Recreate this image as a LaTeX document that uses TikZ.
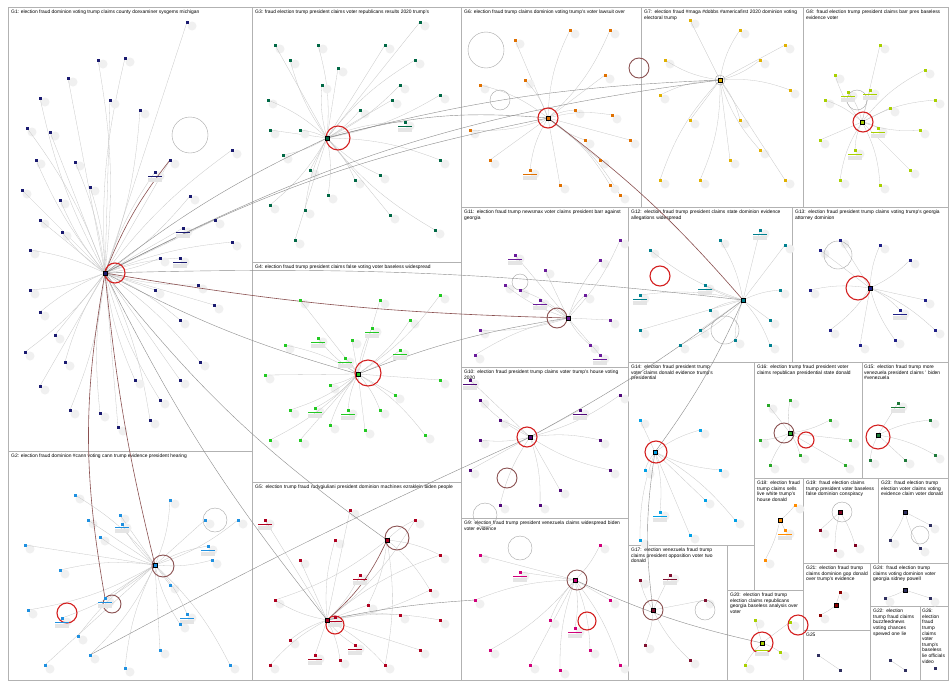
\documentclass[tikz,border=0pt]{standalone}
\usepackage{fontspec}
\setmainfont{Liberation Sans}
\hyphenpenalty=10000
\exhyphenpenalty=10000
\definecolor{c1}{HTML}{1A1A70}
\definecolor{c2}{HTML}{1E90E0}
\definecolor{c3}{HTML}{006845}
\definecolor{c4}{HTML}{22C922}
\definecolor{c5}{HTML}{B00020}
\definecolor{c6}{HTML}{E07000}
\definecolor{c7}{HTML}{E0B000}
\definecolor{c8}{HTML}{A8D000}
\definecolor{c9}{HTML}{D0007A}
\definecolor{c10}{HTML}{50087A}
\definecolor{c11}{HTML}{6A1B9A}
\definecolor{c12}{HTML}{00808F}
\definecolor{c13}{HTML}{202088}
\definecolor{c14}{HTML}{00A0E6}
\definecolor{c15}{HTML}{1E7A3A}
\definecolor{c16}{HTML}{28A828}
\definecolor{c17}{HTML}{801030}
\definecolor{c18}{HTML}{FF8C00}
\definecolor{c19}{HTML}{800020}
\definecolor{c20}{HTML}{A8D000}
\definecolor{c21}{HTML}{8B0000}
\definecolor{c22}{HTML}{303060}
\definecolor{redloop}{HTML}{D42020}
\definecolor{brownedge}{HTML}{8A5050}
\tikzset{
  frame/.style={draw=black!30, line width=0.6pt},
  lab/.style={anchor=north west, font=\fontsize{4.9}{5.6}\selectfont, inner sep=1pt, align=left},
  e/.style={draw=black!22, line width=0.3pt},
  ex/.style={draw=black!45, line width=0.4pt},
  ed/.style={draw=brownedge, line width=0.6pt},
  v/.style={rectangle, fill=#1, minimum size=3pt, inner sep=0pt},
  hub/.style={rectangle, fill=#1, draw=black, line width=0.3pt, minimum size=4pt, inner sep=0pt},
  rloop/.style={draw=redloop, line width=1.1pt},
  bloop/.style={draw=brownedge, line width=0.9pt},
  gloop/.style={draw=black!35, line width=0.4pt},
}
% pass 1: coordinates
\newcommand{\grpC}[4]{%
  \foreach \x/\y [count=\i] in #4 { \coordinate (#1n\i) at (\x,\y); }}
% pass 2: shadows and edges
\newcommand{\grpE}[4]{%
  \foreach \x/\y [count=\i] in #4 {
    \pgfmathtruncatemacro\bb{mod(\i,3)*#3-#3}
    \fill[black!6] (\x+5,\y+4) circle (4.5);
    \draw[e] (#1h) to[bend left=\bb] (#1n\i);
  }}
% pass 3: nodes
\newcommand{\grpN}[4]{%
  \foreach \x/\y [count=\i] in #4 { \node[v=#2] (#1v\i) at (#1n\i) {}; }}
\newcommand{\uls}[2]{%
  \foreach \x/\y in {#2} {
    \fill[black!10] (\x-7,\y+2) rectangle (\x+7,\y+6);
    \draw[#1, line width=1pt] (\x-7,\y) -- (\x+7,\y);
  }}
\def\Lone{187/22,125/58,98/60,68/78,40/98,27/128,50/132,36/160,75/162,22/190,60/200,90/187,40/220,62/232,30/250,170/160,155/172,190/196,183/228,180/258,160/258,155/290,180/320,198/285,214/305,30/290,40/312,55/335,25/352,65/362,40/386,70/410,100/413,118/427,150/420,160/400,180/380,200/362,135/380,215/220,232/242,140/110,110/100,232/150}
\def\Ltwo{120/515,122/524,75/495,88/520,100/537,170/500,205/520,208/546,212/560,170/585,187/614,180/624,105/598,62/618,78/636,45/665,90/655,125/668,160/650,230/665,238/520,25/545,28/610,60/570}
\def\Lthree{275/45,290/60,318/45,338/68,322/85,360/110,392/100,405/122,400/85,385/45,415/60,268/100,270/130,283/155,300/130,310/170,328/195,305/210,295/240,355/180,380/175,390/215,440/160,435/230,420/22,270/205,440/95}
\def\Lfour{300/300,318/338,285/345,265/375,330/385,345/358,352/340,372/328,400/350,395/395,380/410,348/410,365/430,315/408,330/425,300/440,270/440,410/320,440/380,425/435,440/295,380/300,290/410}
\def\Lfive{265/520,335/540,360/575,300/560,275/600,290/640,315/655,340/660,355/645,368/605,400/615,430/590,420/650,440/555,415/520,350/510,385/665,270/665,335/617,440/620}
\def\Lsix{515/40,570/30,610/30,605/75,575/110,585/140,600/160,612/115,530/170,490/160,470/130,480/85,560/185,620/195,525/80,630/140,610/185}
\def\Lseven{690/20,740/30,760/60,785/45,665/60,660/95,690/120,740/120,760/150,785/180,700/180,660/180,730/160,790/90}
\def\Leight{880/45,835/75,848/92,870/90,878/128,855/150,890/108,925/70,920/130,910/170,880/185,840/180,820/140,935/100,825/100}
\def\Leleven{515/255,505/285,520/290,540/300,585/295,590/345,600/355,480/330,475/355,545/270,600/260,620/240,610/320}
\def\Ltwelve{760/230,705/285,710/310,700/330,680/345,735/340,770/320,780/290,640/295,640/330,650/250,720/240,785/245,770/345}
\def\Lthirteen{840/240,880/245,910/260,925/300,935/330,895/340,860/345,830/330,810/290,820/250,900/310}
\def\Lten{470/380,480/400,500/420,580/410,600/440,610/470,560/490,540/505,500/505,470/470,480/440,620/395}
\def\Lnine{520/572,575/628,600/545,610/600,590/650,560/670,530/665,490/650,475/600,480/555,620/665,550/620}
\def\Lfourteen{640/420,700/430,720/470,705/500,660/512,640/540,690/535,735/520,645/470}
\def\Lsixteen{768/405,790/400,830/420,850/440,800/455,770/465,845/465,760/440}
\def\Lfifteen{898/403,930/420,870/460,905/460,935/455}
\def\Leighteen{785/530,765/560,795/505}
\def\Lnineteen{820/530,855/545,835/550}
\def\Ltwentythree{930/525,890/540,920/548}
\def\Lseventeen{670/575,645/645,690/660,705/600,640/580}
\def\Ltwenty{755/620,780/652,745/665,790/622}
\def\Ltwentyone{840/592,820/615}
\def\Ltwentyfour{930/598,885/598}
\newcommand{\allgroups}[1]{%
  #1{g1}{c1}{8}{\Lone}#1{g2}{c2}{10}{\Ltwo}#1{g3}{c3}{10}{\Lthree}#1{g4}{c4}{10}{\Lfour}%
  #1{g5}{c5}{10}{\Lfive}#1{g6}{c6}{12}{\Lsix}#1{g7}{c7}{12}{\Lseven}#1{g8}{c8}{12}{\Leight}%
  #1{g11}{c11}{10}{\Leleven}#1{g12}{c12}{10}{\Ltwelve}#1{g13}{c13}{10}{\Lthirteen}%
  #1{g10}{c10}{10}{\Lten}#1{g9}{c9}{10}{\Lnine}#1{g14}{c14}{10}{\Lfourteen}%
  #1{g16}{c16}{10}{\Lsixteen}#1{g15}{c15}{10}{\Lfifteen}#1{g18}{c18}{8}{\Leighteen}%
  #1{g19}{c19}{8}{\Lnineteen}#1{g23}{c22}{8}{\Ltwentythree}#1{g17}{c17}{10}{\Lseventeen}%
  #1{g20}{c20}{8}{\Ltwenty}#1{g21}{c21}{8}{\Ltwentyone}#1{g24}{c22}{8}{\Ltwentyfour}}
\begin{document}
\begin{tikzpicture}[x=1pt,y=-1pt]
\useasboundingbox (0,0) rectangle (950,688);
\fill[white] (0,0) rectangle (950,688);
% frames
\foreach \xa/\ya/\xb/\yb in {8/7/252/451, 8/451/252/680, 252/7/461/262, 252/262/461/482, 252/482/461/680,
  461/7/641/207, 641/7/803/207, 803/7/948/207, 461/207/628/367, 628/207/792/362, 792/207/948/362,
  461/367/628/518, 461/518/628/680, 628/362/754/545, 754/362/862/478, 862/362/948/478,
  754/478/803/590, 803/478/878/563, 878/478/948/563, 628/545/727/680, 727/590/803/680,
  803/563/870/630, 870/563/948/606, 803/630/870/680, 870/606/920/680, 920/606/948/680}
  \draw[frame] (\xa,\ya) rectangle (\xb,\yb);
% labels
\node[lab] (t1) at (10,9) {G1: election fraud dominion voting trump claims county dcexaminer sysgems michigan};
\node[lab] (t2) at (10,453) {G2: election fraud dominion \#cann voting cann trump evidence president hearing};
\node[lab] (t3) at (254,9) {G3: fraud election trump president claims voter republicans results 2020 trump's};
\node[lab] (t4) at (254,264) {G4: election fraud trump president claims false voting voter baseless widespread};
\node[lab, text width=200pt] (t5) at (254,484) {G5: election trump fraud rudygiuliani president dominion machines ezraklein biden people};
\node[lab] (t6) at (463,9) {G6: election fraud trump claims dominion voting trump's voter lawsuit over};
\node[lab, text width=155pt] (t7) at (643,9) {G7: election fraud \#maga \#dobbs \#americafirst 2020 dominion voting electoral trump};
\node[lab, text width=138pt] (t8) at (805,9) {G8: fraud election trump president claims barr pres baseless evidence voter};
\node[lab, text width=160pt] (t11) at (463,209) {G11: election fraud trump newsmax voter claims president barr against georgia};
\node[lab, text width=160pt] (t12) at (630,209) {G12: election fraud trump president claims state dominion evidence allegations widespread};
\node[lab, text width=150pt] (t13) at (794,209) {G13: election fraud president trump claims voting trump's georgia attorney dominion};
\node[lab, text width=160pt] (t10) at (463,369) {G10: election fraud president trump claims voter trump's house voting 2020};
\node[lab, text width=160pt] (t9) at (463,520) {G9: election fraud trump president venezuela claims widespread biden voter evidence};
\node[lab, text width=90pt] (t14) at (630,364) {G14: election fraud president trump voter claims donald evidence trump's presidential};
\node[lab, text width=102pt] (t16) at (756,364) {G16: election trump fraud president voter claims republican presidential state donald};
\node[lab, text width=85pt] (t15) at (863,364) {G15: election fraud trump more venezuela president claims ' biden \#venezuela};
\node[lab, text width=45pt] (t18) at (756,480) {G18: election fraud trump claims sells live white trump's house donald};
\node[lab, text width=71pt] (t19) at (805,480) {G19: fraud election claims trump president voter baseless false dominion conspiracy};
\node[lab, text width=66pt] (t23) at (880,480) {G23: fraud election trump election voter claims voting evidence claim voter donald};
\node[lab, text width=94pt] (t17) at (630,547) {G17: election venezuela fraud trump claims president opposition voter two donald};
\node[lab, text width=72pt] (t20) at (729,592) {G20: election fraud trump election claims republicans georgia baseless analysis over voter};
\node[lab, text width=63pt] (t21) at (805,565) {G21: election fraud trump claims dominion gop donald over trump's evidence};
\node[lab, text width=64pt] (t24) at (872,565) {G24: fraud election trump claims voting dominion voter georgia sidney powell};
\node[lab] (t25) at (805,632) {G25};
\node[lab, text width=46pt] (t22) at (872,608) {G22: election trump fraud claims buzzfeednews voting chances spewed one lie};
\node[lab, text width=24pt] (t26) at (921,608) {G26: election fraud trump claims voter trump's baseless lie officials video};

% hub coordinates
\coordinate (g1h) at (105,273);
\coordinate (g2h) at (155,565);
\coordinate (g3h) at (327,138);
\coordinate (g4h) at (358,374);
\coordinate (g5h) at (327,620);
\coordinate (g5b) at (387,540);
\coordinate (g6h) at (548,118);
\coordinate (g7h) at (720,80);
\coordinate (g8h) at (862,122);
\coordinate (g9h) at (575,580);
\coordinate (g10h) at (530,437);
\coordinate (g11h) at (568,318);
\coordinate (g12h) at (743,300);
\coordinate (g13h) at (870,288);
\coordinate (g14h) at (655,452);
\coordinate (g15h) at (878,435);
\coordinate (g16h) at (790,433);
\coordinate (g17h) at (653,610);
\coordinate (g18h) at (780,520);
\coordinate (g19h) at (840,512);
\coordinate (g20h) at (762,643);
\coordinate (g21h) at (836,605);
\coordinate (g23h) at (905,512);
\coordinate (g24h) at (905,590);
\coordinate (g25a) at (818,655);
\coordinate (g25b) at (840,670);
\coordinate (g22a) at (890,660);
\coordinate (g22b) at (905,670);
\coordinate (g26a) at (935,668);

% satellite coordinates
\allgroups{\grpC}

% shadows and edges
\allgroups{\grpE}
\foreach \z in {5,10,12,15,17,14} { \draw[e] (g5b) to[bend left=10] (g5n\z); }
\draw[ed] (g5b) to[bend left=12] (g5h);
\draw[e] (g25a) -- (g25b);
\draw[e] (g22a) -- (g22b);

% cross-group edges
\draw[ex] (g1h) to[bend left=6] (g3h);
\draw[ex] (g1h) to[bend left=8] (g6h);
\draw[ex] (g1h) to[bend left=10] (g7h);
\draw[ed] (g1h) to[bend right=4] (g11h);
\draw[ex] (g1h) to[bend right=6] (g4h);
\draw[ex] (g1h) to[bend right=8] (g5b);
\draw[ex] (g1h) to[bend right=6] (g5h);
\draw[ed] (g1h) to[bend right=4] (g2h);
\draw[ed] (g1h) to[bend left=8] (g1n16);
\draw[ed] (g1h) to[bend right=10] (g2n13);
\draw[ex] (g1h) to[bend left=4] (g12h);
\draw[ex] (g2n17) to[bend left=2] (g10h);
\draw[ex] (g3h) to[bend left=10] (g6h);
\draw[ed] (g6h) to[bend left=6] (g12h);
\draw[ex] (g12h) to[bend left=4] (g10h);
\draw[ex] (g9h) to[bend right=6] (g20h);
\draw[ex] (g14h) to[bend right=8] (g17h);
\draw[ex] (g5h) to[bend left=4] (g9n9);
\draw[ex] (g4h) to[bend left=6] (g11h);
\draw[ex] (g12h) to[bend left=6] (g14h);
\draw[ex] (g3h) to[bend left=6] (g7h);

% loops
\draw[rloop] (115,273) circle (10);
\draw[rloop] (67,613) circle (10);
\draw[bloop] (112,604) circle (9);
\draw[bloop] (163,566) circle (11);
\draw[gloop] (215,520) circle (12);
\draw[gloop] (190,135) circle (18);
\draw[rloop] (338,138) circle (12);
\draw[rloop] (368,373) circle (13);
\draw[rloop] (335,625) circle (9);
\draw[bloop] (397,538) circle (12);
\draw[rloop] (548,118) circle (10);
\draw[gloop] (500,100) circle (10);
\draw[bloop] (639,68) circle (10);
\draw[gloop] (486,50) circle (18);
\draw[gloop] (720,80) circle (5);
\draw[rloop] (863,122) circle (10);
\draw[gloop] (857,100) circle (10);
\draw[bloop] (557,318) circle (10);
\draw[gloop] (520,282) circle (8);
\draw[rloop] (660,276) circle (10);
\draw[gloop] (725,330) circle (14);
\draw[rloop] (858,288) circle (12);
\draw[gloop] (838,255) circle (14);
\draw[rloop] (527,437) circle (10);
\draw[bloop] (507,478) circle (10);
\draw[gloop] (485,515) circle (12);
\draw[gloop] (520,548) circle (12);
\draw[bloop] (577,580) circle (10);
\draw[rloop] (587,621) circle (9);
\draw[rloop] (656,452) circle (11);
\draw[bloop] (784,433) circle (10);
\draw[rloop] (806,440) circle (8);
\draw[rloop] (878,437) circle (12);
\draw[gloop] (842,512) circle (10);
\draw[bloop] (653,610) circle (10);
\draw[rloop] (762,643) circle (11);
\draw[rloop] (798,625) circle (10);
\draw[gloop] (920,535) circle (9);
\draw[gloop] (705,610) circle (10);

% underlines
\uls{c1}{155/176,183/232,180/262}
\uls{c2}{122/527,208/550,187/618,105/602,62/622}
\uls{c3}{405/126}
\uls{c4}{318/342,345/362,372/332,400/354,348/414,315/412}
\uls{c5}{265/524,360/579,315/659,355/649,335/621}
\uls{c6}{530/174}
\uls{c8}{848/96,870/94,878/132,855/154}
\uls{c11}{515/259,540/304,600/359}
\uls{c12}{760/234,705/289,640/299}
\uls{c13}{900/314}
\uls{c10}{470/384,580/414}
\uls{c9}{520/576,575/632}
\uls{c14}{660/516}
\uls{c15}{898/407}
\uls{c18}{785/534}
\uls{c17}{670/579}
\uls{c20}{762/650}

% nodes
\allgroups{\grpN}
\foreach \n/\cc in {g1h/c1,g2h/c2,g3h/c3,g4h/c4,g5h/c5,g5b/c5,g6h/c6,g7h/c7,g8h/c8,g9h/c9,g10h/c10,
  g11h/c11,g12h/c12,g13h/c13,g14h/c14,g15h/c15,g16h/c16,g17h/c17,g18h/c18,g19h/c19,g20h/c20,
  g21h/c21,g23h/c22,g24h/c22}
  \node[hub=\cc] (\n x) at (\n) {};
\foreach \n in {g25a,g25b,g22a,g22b,g26a}
  \node[v=c22] (\n x) at (\n) {};
\end{tikzpicture}
\end{document}
